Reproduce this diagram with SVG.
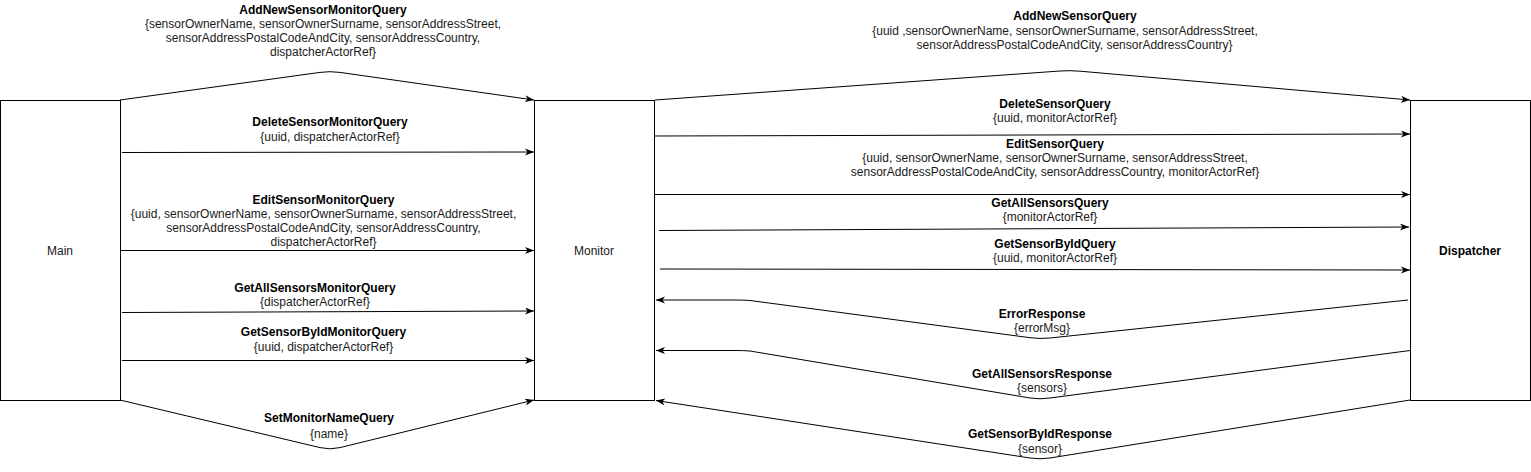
<svg xmlns="http://www.w3.org/2000/svg" width="1531" height="472" viewBox="0 0 1531 472">
<style>
.node{fill:#fff;stroke:#000;stroke-width:1}
.edge{fill:none;stroke:#000;stroke-width:1;stroke-linejoin:round;marker-end:url(#arr)}
text{font-family:"Liberation Sans",Arial,sans-serif;font-size:12px;fill:#1a1a1a;text-anchor:middle}
.t{font-weight:bold;fill:#000}
</style>
<defs>
<marker id="arr" markerUnits="userSpaceOnUse" markerWidth="10" markerHeight="8" refX="9" refY="3.5" orient="auto">
<path d="M0,0 L9,3.5 L0,7 L2.5,3.5 Z" fill="#000"/>
</marker>
</defs>
<rect width="1531" height="472" fill="#fff"/>
<g id="node-main"><rect class="node" x="0.5" y="100.5" width="120" height="300"/><text x="60" y="255">Main</text></g>
<g id="node-monitor"><rect class="node" x="534.5" y="100.5" width="120" height="300"/><text x="594" y="255">Monitor</text></g>
<g id="node-dispatcher"><rect class="node" x="1410.5" y="100.5" width="120" height="300"/><text class="t" x="1470" y="255">Dispatcher</text></g>
<g id="connectors">
<path class="edge" d="M120,100 L320,72.4 Q330,71 340,72.4 L534,100"/>
<path class="edge" d="M122,152.5 L534,152"/>
<path class="edge" d="M120,250.5 L534,250.5"/>
<path class="edge" d="M122,312.5 L534,311"/>
<path class="edge" d="M122,360.5 L534,360.5"/>
<path class="edge" d="M120,400 L320,447.6 Q330,450 340,447.6 L534,400"/>
<path class="edge" d="M655,100 L1060,71 Q1070,70.3 1080,71.2 L1410,100"/>
<path class="edge" d="M655,136 L1410,134"/>
<path class="edge" d="M655,194.5 L1410,194.5"/>
<path class="edge" d="M659,230.5 L1409,227"/>
<path class="edge" d="M660,269 L1410,270"/>
<path class="edge" d="M1408,300 L1050,338 Q1040,339 1030,337.7 L750,300.5 Q745,300 735,300 L656,300"/>
<path class="edge" d="M1410,350.5 L1050,398 Q1040,399.5 1030,398 L750,351 Q745,350.5 735,350.5 L656,350.5"/>
<path class="edge" d="M1410,400 L1050,458 Q1040,459.5 1030,458 L656,400.5"/>
</g>
<g id="labels">
<text class="t" x="323" y="14">AddNewSensorMonitorQuery</text>
<text x="323" y="28">{sensorOwnerName, sensorOwnerSurname, sensorAddressStreet,</text>
<text x="323" y="42">sensorAddressPostalCodeAndCity, sensorAddressCountry,</text>
<text x="323" y="56">dispatcherActorRef}</text>
<text class="t" x="330" y="126">DeleteSensorMonitorQuery</text>
<text x="330" y="141">{uuid, dispatcherActorRef}</text>
<text class="t" x="323.5" y="204">EditSensorMonitorQuery</text>
<text x="323.5" y="218">{uuid, sensorOwnerName, sensorOwnerSurname, sensorAddressStreet,</text>
<text x="323.5" y="232">sensorAddressPostalCodeAndCity, sensorAddressCountry,</text>
<text x="323.5" y="246">dispatcherActorRef}</text>
<text class="t" x="315" y="292">GetAllSensorsMonitorQuery</text>
<text x="315" y="306">{dispatcherActorRef}</text>
<text class="t" x="323.5" y="336">GetSensorByIdMonitorQuery</text>
<text x="323.5" y="351">{uuid, dispatcherActorRef}</text>
<text class="t" x="329" y="422">SetMonitorNameQuery</text>
<text x="329" y="438">{name}</text>
<text class="t" x="1075" y="20">AddNewSensorQuery</text>
<text x="1065" y="35">{uuid ,sensorOwnerName, sensorOwnerSurname, sensorAddressStreet,</text>
<text x="1074.5" y="49">sensorAddressPostalCodeAndCity, sensorAddressCountry}</text>
<text class="t" x="1055" y="108">DeleteSensorQuery</text>
<text x="1055" y="122">{uuid, monitorActorRef}</text>
<text class="t" x="1055" y="148">EditSensorQuery</text>
<text x="1055" y="162">{uuid, sensorOwnerName, sensorOwnerSurname, sensorAddressStreet,</text>
<text x="1055" y="176">sensorAddressPostalCodeAndCity, sensorAddressCountry, monitorActorRef}</text>
<text class="t" x="1050" y="207">GetAllSensorsQuery</text>
<text x="1050" y="221">{monitorActorRef}</text>
<text class="t" x="1055" y="248">GetSensorByIdQuery</text>
<text x="1055" y="262">{uuid, monitorActorRef}</text>
<text class="t" x="1042" y="318">ErrorResponse</text>
<text x="1042" y="332">{errorMsg}</text>
<text class="t" x="1042" y="378">GetAllSensorsResponse</text>
<text x="1042" y="392">{sensors}</text>
<text class="t" x="1040" y="438">GetSensorByIdResponse</text>
<text x="1040" y="453">{sensor}</text>
</g>
</svg>
